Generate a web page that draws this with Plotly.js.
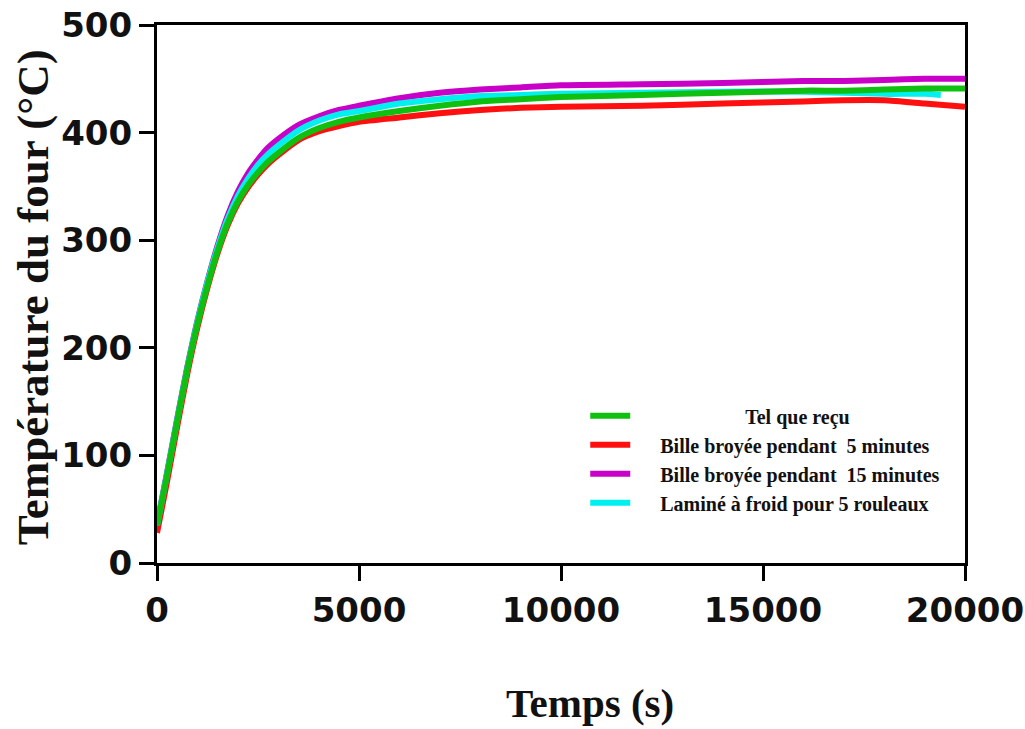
<!DOCTYPE html>
<html>
<head>
<meta charset="utf-8">
<script src="https://cdn.plot.ly/plotly-3.0.1.min.js"></script>
<style>html,body{margin:0;padding:0;background:#fff;}#chart{width:1025px;height:729px;}</style>
</head>
<body>
<div id="chart"></div>
<script>
const time = [0, 250, 500, 750, 1000, 1250, 1500, 1750, 2000, 2250, 2500, 2750, 3000, 3500, 4000, 4500, 5000, 6000, 7000, 8000, 9000, 10000, 12000, 14000, 16000, 17000, 18000, 19000, 20000];
const timeCyan = [0, 250, 500, 750, 1000, 1250, 1500, 1750, 2000, 2250, 2500, 2750, 3000, 3500, 4000, 4500, 5000, 6000, 7000, 8000, 9000, 10000, 12000, 14000, 16000, 17000, 18000, 19000, 19400];

const telQueRecu = [35, 82, 132, 180, 222, 258, 290, 316, 336, 351, 363, 373, 381, 395, 404, 410, 414, 420, 425, 429, 431, 433, 435, 437, 439, 439, 440, 441, 441];
const bille5 = [28, 76, 127, 176, 219, 256, 288, 314, 334, 349, 361, 371, 379, 393, 401, 406, 410, 414, 418, 421, 423, 424, 425, 427, 429, 430, 430, 427, 424];
const bille15 = [36, 84, 134, 182, 225, 262, 295, 323, 345, 362, 375, 386, 394, 407, 415, 421, 425, 432, 437, 440, 442, 444, 445, 446, 448, 448, 449, 450, 450];
const lamine = [35, 83, 133, 181, 224, 261, 293, 320, 341, 357, 370, 380, 388, 402, 411, 417, 420, 427, 431, 434, 435, 436, 437, 438, 438, 437, 436, 436, 435];

const xTitle = "Temps (s)";
const yTitle = "Température du four (°C)";
const pad = "\u00a0".repeat(5);
const names = [
  pad + "\u00a0".repeat(17) + "Tel que reçu",
  pad + "Bille broyée pendant\u00a0 5 minutes",
  pad + "Bille broyée pendant\u00a0 15 minutes",
  pad + "Laminé à froid pour 5 rouleaux"
];

const lw = 6;
const traces = [
  {x: time, y: bille5, name: names[1], mode: "lines", line: {color: "#ff1010", width: lw, shape: "spline", smoothing: 0.6}, legendrank: 2},
  {x: time, y: bille15, name: names[2], mode: "lines", line: {color: "#c800c8", width: lw, shape: "spline", smoothing: 0.6}, legendrank: 3},
  {x: timeCyan, y: lamine, name: names[3], mode: "lines", line: {color: "#00f0f0", width: lw, shape: "spline", smoothing: 0.6}, legendrank: 4},
  {x: time, y: telQueRecu, name: names[0], mode: "lines", line: {color: "#10c010", width: lw, shape: "spline", smoothing: 0.6}, legendrank: 1}
];

const tickFont = {family: "DejaVu Sans, Arial, sans-serif", size: 34, color: "#111", weight: "bold"};
const serif = "Liberation Serif, Times New Roman, serif";

const layout = {
  width: 1025, height: 729,
  margin: {l: 157, r: 60, t: 25, b: 166},
  paper_bgcolor: "#fff", plot_bgcolor: "#fff",
  showlegend: true,
  legend: {
    x: 0.53, y: 0.31, xanchor: "left", yanchor: "top",
    font: {family: serif, size: 20, color: "#111", weight: "bold"},
    bgcolor: "rgba(0,0,0,0)", tracegroupgap: 0, itemwidth: 40
  },
  xaxis: {
    range: [0, 20000], tickvals: [0, 5000, 10000, 15000, 20000],
    ticktext: ["0", "5000", "10000", "15000", "20000"],
    showgrid: false, zeroline: false,
    showline: true, linecolor: "#000", linewidth: 3, mirror: true,
    ticks: "outside", ticklen: 15, tickwidth: 3, tickcolor: "#000",
    tickfont: tickFont
  },
  yaxis: {
    range: [0, 500], tickvals: [0, 100, 200, 300, 400, 500],
    showgrid: false, zeroline: false,
    showline: true, linecolor: "#000", linewidth: 3, mirror: true,
    ticks: "outside", ticklen: 15, tickwidth: 3, tickcolor: "#000",
    tickfont: tickFont
  },
  annotations: [
    {text: xTitle, xref: "paper", yref: "paper", x: 0.536, y: -0.26, xanchor: "center", yanchor: "middle",
     showarrow: false, font: {family: serif, size: 41, color: "#111", weight: "bold"}},
    {text: yTitle, xref: "paper", yref: "paper", x: -0.1535, y: 0.494, xanchor: "center", yanchor: "middle",
     textangle: -90, showarrow: false, font: {family: serif, size: 45, color: "#111", weight: "bold"}}
  ]
};

Plotly.newPlot("chart", traces, layout, {displayModeBar: false, staticPlot: true});
</script>
</body>
</html>
